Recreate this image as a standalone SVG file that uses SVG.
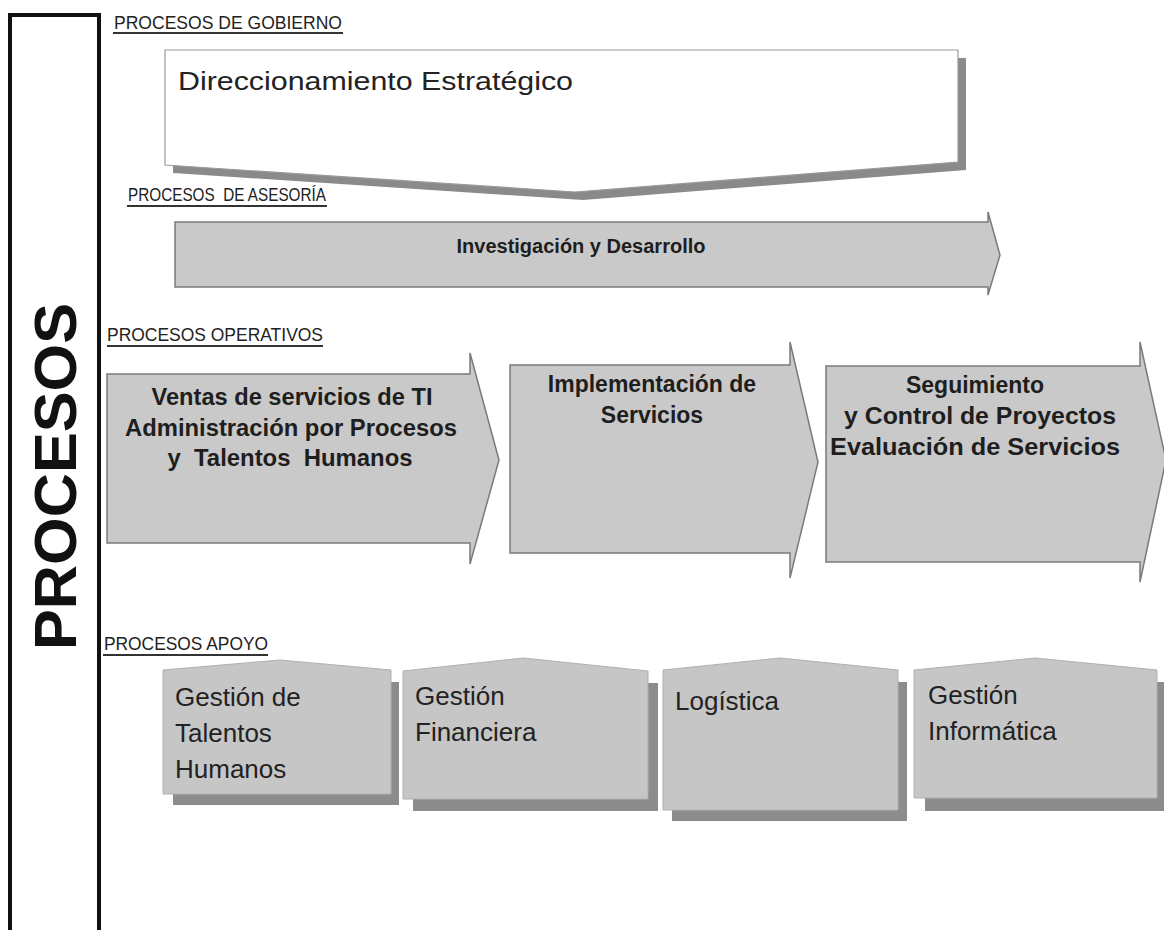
<svg xmlns="http://www.w3.org/2000/svg" width="1164" height="930" viewBox="0 0 1164 930">
<style>
.hdr{font-family:"Liberation Sans",Arial,sans-serif;font-size:19px;fill:#222;}
.ul{stroke:#333;stroke-width:1.8;}
.arrow{fill:#c9c9c9;stroke:#7a7a7a;stroke-width:1.5;}
.bold{font-family:"Liberation Sans",Arial,sans-serif;font-weight:bold;fill:#1e1e1e;text-anchor:middle;}
.box{fill:#c6c6c6;stroke:#b0b0b0;stroke-width:1;}
.shadow{fill:#8c8c8c;}
.reg{font-family:"Liberation Sans",Arial,sans-serif;font-size:26px;fill:#222;}
</style>
<rect width="1164" height="930" fill="#ffffff"/>

<g id="procesos-frame">
  <path d="M10,940 L10,15 L99,15 L99,940" fill="none" stroke="#111" stroke-width="4"/>
  <text transform="translate(76,650) rotate(-90)" font-family="Liberation Sans,Arial,sans-serif" font-weight="bold" font-size="60" fill="#111" textLength="347" lengthAdjust="spacingAndGlyphs">PROCESOS</text>
</g>

<g id="headers">
  <text class="hdr" x="114" y="29" textLength="228" lengthAdjust="spacingAndGlyphs">PROCESOS DE GOBIERNO</text>
  <line class="ul" x1="113" y1="33" x2="343" y2="33"/>
  <text class="hdr" x="128" y="201" textLength="198" lengthAdjust="spacingAndGlyphs" xml:space="preserve">PROCESOS  DE ASESORÍA</text>
  <line class="ul" x1="127" y1="206" x2="327" y2="206"/>
  <text class="hdr" x="107" y="341" textLength="216" lengthAdjust="spacingAndGlyphs">PROCESOS OPERATIVOS</text>
  <line class="ul" x1="107" y1="346" x2="323" y2="346"/>
  <text class="hdr" x="104" y="650" textLength="164" lengthAdjust="spacingAndGlyphs">PROCESOS APOYO</text>
  <line class="ul" x1="103" y1="655" x2="268" y2="655"/>
</g>

<g id="direccionamiento">
  <polygon points="173,58 966,58 966,170 583,200 173,173" fill="#8a8a8a"/>
  <polygon points="165,50 958,50 958,162 575,192 165,165" fill="#ffffff" stroke="#9a9a9a" stroke-width="1.2"/>
  <text x="178" y="90" font-family="Liberation Sans,Arial,sans-serif" font-size="26" fill="#222" textLength="395" lengthAdjust="spacingAndGlyphs">Direccionamiento Estratégico</text>
</g>

<g id="investigacion">
  <polygon class="arrow" points="175,222 988,222 988,212 1000,255 988,295 988,287 175,287"/>
  <text class="bold" x="581" y="253" font-size="20">Investigación y Desarrollo</text>
</g>

<g id="ventas">
  <polygon class="arrow" points="107,374 470,374 470,353 499,460 470,564 470,543 107,543"/>
  <text class="bold" font-size="23" x="292" y="405" textLength="281" lengthAdjust="spacingAndGlyphs">Ventas de servicios de TI</text>
  <text class="bold" font-size="23" x="291" y="436" textLength="332" lengthAdjust="spacingAndGlyphs">Administración por Procesos</text>
  <text class="bold" font-size="23" x="290" y="466" textLength="245" lengthAdjust="spacingAndGlyphs" xml:space="preserve">y  Talentos  Humanos</text>
</g>

<g id="implementacion">
  <polygon class="arrow" points="510,365 790,365 790,342 818,462 790,578 790,553 510,553"/>
  <text class="bold" font-size="23" x="652" y="392">Implementación de</text>
  <text class="bold" font-size="23" x="652" y="423">Servicios</text>
</g>

<g id="seguimiento">
  <polygon class="arrow" points="826,366 1140,366 1140,342 1166,460 1140,582 1140,562 826,562"/>
  <text class="bold" font-size="23" x="975" y="393">Seguimiento</text>
  <text class="bold" font-size="24" x="980" y="424" textLength="272" lengthAdjust="spacingAndGlyphs">y Control de Proyectos</text>
  <text class="bold" font-size="24" x="975" y="455" textLength="290" lengthAdjust="spacingAndGlyphs">Evaluación de Servicios</text>
</g>

<g id="talentos">
  <rect class="shadow" x="173" y="682" width="226" height="123"/>
  <polygon class="box" points="163,670 280,660 391,670 391,794 163,794"/>
  <text class="reg"><tspan x="175" y="706">Gestión de</tspan><tspan x="175" y="742">Talentos</tspan><tspan x="175" y="778">Humanos</tspan></text>
</g>

<g id="financiera">
  <rect class="shadow" x="413" y="683" width="245" height="128"/>
  <polygon class="box" points="403,671 523,658 648,671 648,799 403,799"/>
  <text class="reg"><tspan x="415" y="705">Gestión</tspan><tspan x="415" y="741">Financiera</tspan></text>
</g>

<g id="logistica">
  <rect class="shadow" x="672" y="682" width="235" height="139"/>
  <polygon class="box" points="663,670 780,658 898,670 898,810 663,810"/>
  <text class="reg" x="675" y="710">Logística</text>
</g>

<g id="informatica">
  <rect class="shadow" x="925" y="682" width="245" height="129"/>
  <polygon class="box" points="914,670 1035,658 1157,670 1157,798 914,798"/>
  <text class="reg"><tspan x="928" y="704">Gestión</tspan><tspan x="928" y="740">Informática</tspan></text>
</g>

<g id="connectors"/>
</svg>
